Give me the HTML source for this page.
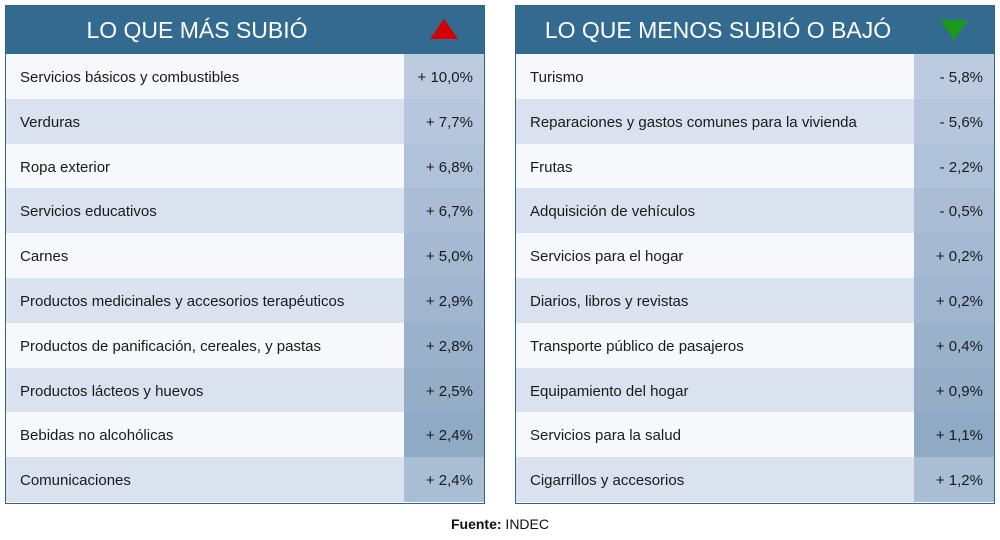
<!DOCTYPE html><html><head><style>
body{margin:0;width:1000px;height:540px;background:#fff;font-family:"Liberation Sans",sans-serif;position:relative;overflow:hidden}
.p{position:absolute;top:5px;width:478px;height:497px;border:1px solid #2f6488;overflow:hidden}
.h{height:48px;background:#336a90;color:#fff;font-size:23px;line-height:48px;position:relative}
.h span{position:absolute;left:0;text-align:center;white-space:nowrap}
.tri{position:absolute;top:13px;left:424px;width:0;height:0;border-left:14px solid transparent;border-right:14px solid transparent}
.r{height:44.8px;position:relative;font-size:15px;line-height:48px;color:#1a1a1a}
.r .l{position:absolute;left:14px}
.r .v{position:absolute;left:398px;width:80px;height:44.8px;text-align:right;box-sizing:border-box;padding-right:11px}
.o{background:#f6f8fb}.e{background:#d9e2ee}
</style></head><body>
<div class="p" style="left:5px">
<div class="h"><span style="width:382px">LO QUE MÁS SUBIÓ</span><div class="tri" style="border-bottom:20px solid #d40000"></div></div>
<div class="r o"><span class="l">Servicios básicos y combustibles</span><span class="v" style="background:#bccbe0">+ 10,0%</span></div>
<div class="r e"><span class="l">Verduras</span><span class="v" style="background:#b6c6dc">+ 7,7%</span></div>
<div class="r o"><span class="l">Ropa exterior</span><span class="v" style="background:#b0c2d9">+ 6,8%</span></div>
<div class="r e"><span class="l">Servicios educativos</span><span class="v" style="background:#abbdd5">+ 6,7%</span></div>
<div class="r o"><span class="l">Carnes</span><span class="v" style="background:#a5b9d2">+ 5,0%</span></div>
<div class="r e"><span class="l">Productos medicinales y accesorios terapéuticos</span><span class="v" style="background:#a0b5cf">+ 2,9%</span></div>
<div class="r o"><span class="l">Productos de panificación, cereales, y pastas</span><span class="v" style="background:#9ab1cb">+ 2,8%</span></div>
<div class="r e"><span class="l">Productos lácteos y huevos</span><span class="v" style="background:#96adc8">+ 2,5%</span></div>
<div class="r o"><span class="l">Bebidas no alcohólicas</span><span class="v" style="background:#8faac5">+ 2,4%</span></div>
<div class="r e"><span class="l">Comunicaciones</span><span class="v" style="background:#a9bed5">+ 2,4%</span></div>
</div>
<div class="p" style="left:515px">
<div class="h"><span style="width:404px">LO QUE MENOS SUBIÓ O BAJÓ</span><div class="tri" style="border-top:20px solid #1a9a1a;top:14px"></div></div>
<div class="r o"><span class="l">Turismo</span><span class="v" style="background:#bccbe0">- 5,8%</span></div>
<div class="r e"><span class="l">Reparaciones y gastos comunes para la vivienda</span><span class="v" style="background:#b6c6dc">- 5,6%</span></div>
<div class="r o"><span class="l">Frutas</span><span class="v" style="background:#b0c2d9">- 2,2%</span></div>
<div class="r e"><span class="l">Adquisición de vehículos</span><span class="v" style="background:#abbdd5">- 0,5%</span></div>
<div class="r o"><span class="l">Servicios para el hogar</span><span class="v" style="background:#a5b9d2">+ 0,2%</span></div>
<div class="r e"><span class="l">Diarios, libros y revistas</span><span class="v" style="background:#a0b5cf">+ 0,2%</span></div>
<div class="r o"><span class="l">Transporte público de pasajeros</span><span class="v" style="background:#9ab1cb">+ 0,4%</span></div>
<div class="r e"><span class="l">Equipamiento del hogar</span><span class="v" style="background:#96adc8">+ 0,9%</span></div>
<div class="r o"><span class="l">Servicios para la salud</span><span class="v" style="background:#8faac5">+ 1,1%</span></div>
<div class="r e"><span class="l">Cigarrillos y accesorios</span><span class="v" style="background:#a9bed5">+ 1,2%</span></div>
</div>
<div style="position:absolute;top:516px;left:0;width:1000px;text-align:center;font-size:14px;color:#111"><b>Fuente:</b> INDEC</div>
</body></html>
